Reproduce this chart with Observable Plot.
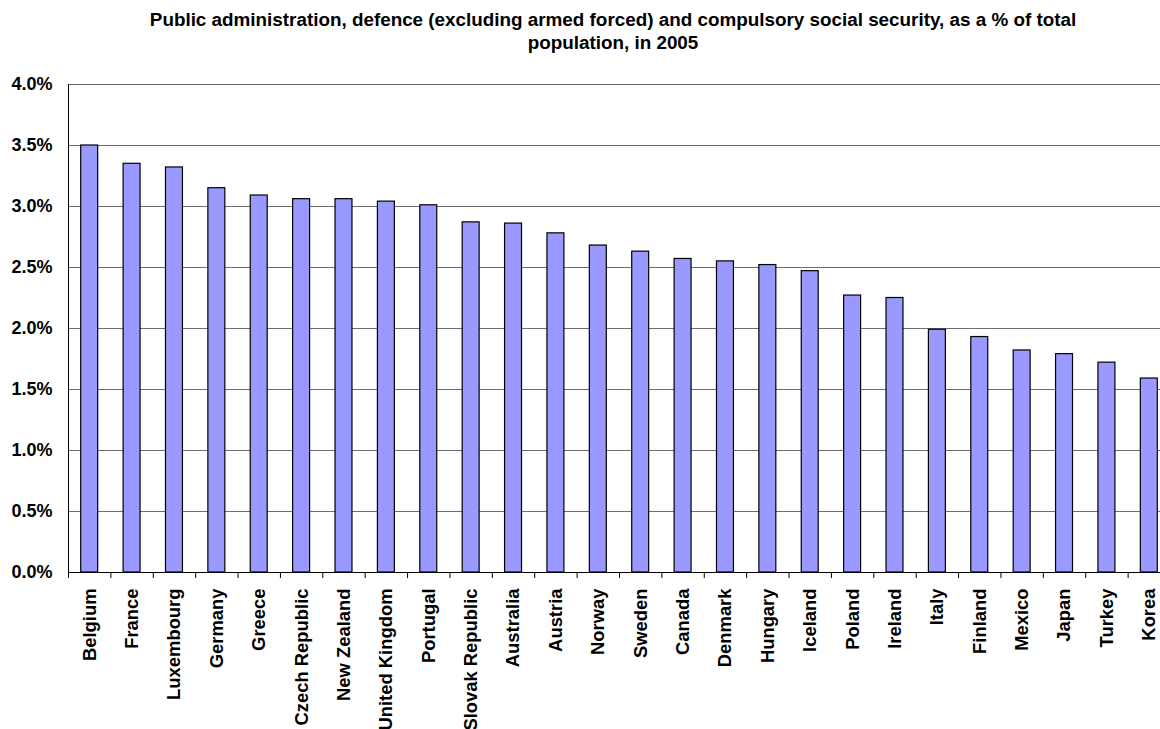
<!DOCTYPE html>
<html>
<head>
<meta charset="utf-8">
<script src="https://cdn.jsdelivr.net/npm/d3@7"></script>
<script src="https://cdn.jsdelivr.net/npm/@observablehq/plot@0.6"></script>
<style>
  html, body { margin: 0; padding: 0; background: white; overflow: hidden; }
  #title {
    box-sizing: border-box;
    width: 1160px; height: 60px;
    padding-top: 8px; padding-left: 66px;
    text-align: center;
    font-family: "Liberation Sans", Arial, sans-serif;
    font-weight: bold; font-size: 18.85px; line-height: 23px;
    color: black; white-space: nowrap;
  }
  #chart svg { display: block; }
</style>
</head>
<body>
<div id="title">Public administration, defence (excluding armed forced) and compulsory social security, as a % of total<br>population, in 2005</div>
<div id="chart"></div>
<script>
const countries = ["Belgium","France","Luxembourg","Germany","Greece","Czech Republic","New Zealand","United Kingdom","Portugal","Slovak Republic","Australia","Austria","Norway","Sweden","Canada","Denmark","Hungary","Iceland","Poland","Ireland","Italy","Finland","Mexico","Japan","Turkey","Korea"];
const values = [3.50,3.35,3.32,3.15,3.09,3.06,3.06,3.04,3.01,2.87,2.86,2.78,2.68,2.63,2.57,2.55,2.52,2.47,2.27,2.25,1.99,1.93,1.82,1.79,1.72,1.59];
const yTicks = [0,0.5,1.0,1.5,2.0,2.5,3.0,3.5,4.0];

const data = countries.map((c, i) => ({country: c, value: values[i]}));
const font = "'Liberation Sans', Arial, sans-serif";
const x0 = 68, x1 = 1170;
const step = (x1 - x0) / countries.length;

const chart = Plot.plot({
  width: 1160,
  height: 669,
  marginTop: 24,
  marginBottom: 157,
  marginLeft: 68,
  marginRight: 0,
  style: {fontFamily: font, fontWeight: "bold", fontSize: "18px", background: "white", color: "black", overflow: "visible"},
  x: {type: "band", domain: countries, range: [x0, x1], paddingInner: 0.6, paddingOuter: 0.3, round: false},
  y: {domain: [0, 4]},
  marks: [
    Plot.gridY(yTicks, {stroke: "#6e6e6e", strokeOpacity: 1, strokeWidth: 1}),
    Plot.barY(data, {x: "country", y: "value", fill: "#9999FF", stroke: "black", strokeWidth: 1.2}),
    Plot.ruleY([0], {stroke: "black", strokeWidth: 1}),
    Plot.frame({anchor: "left", stroke: "black", strokeWidth: 1}),
    Plot.axisX({tickSize: 6, dx: -step / 2, text: null, stroke: "black", label: null}),
    Plot.axisX({tickSize: 0, tickPadding: 16, tickRotate: -90, fontSize: 18.4, fontWeight: "bold", fontFamily: font, fill: "black", label: null}),
    Plot.axisY({ticks: yTicks, tickSize: 0, tickPadding: 16, tickFormat: d => d.toFixed(1) + "%", fontSize: 18, fontWeight: "bold", fontFamily: font, fill: "black", label: null})
  ]
});
document.getElementById("chart").appendChild(chart);
</script>
</body>
</html>
